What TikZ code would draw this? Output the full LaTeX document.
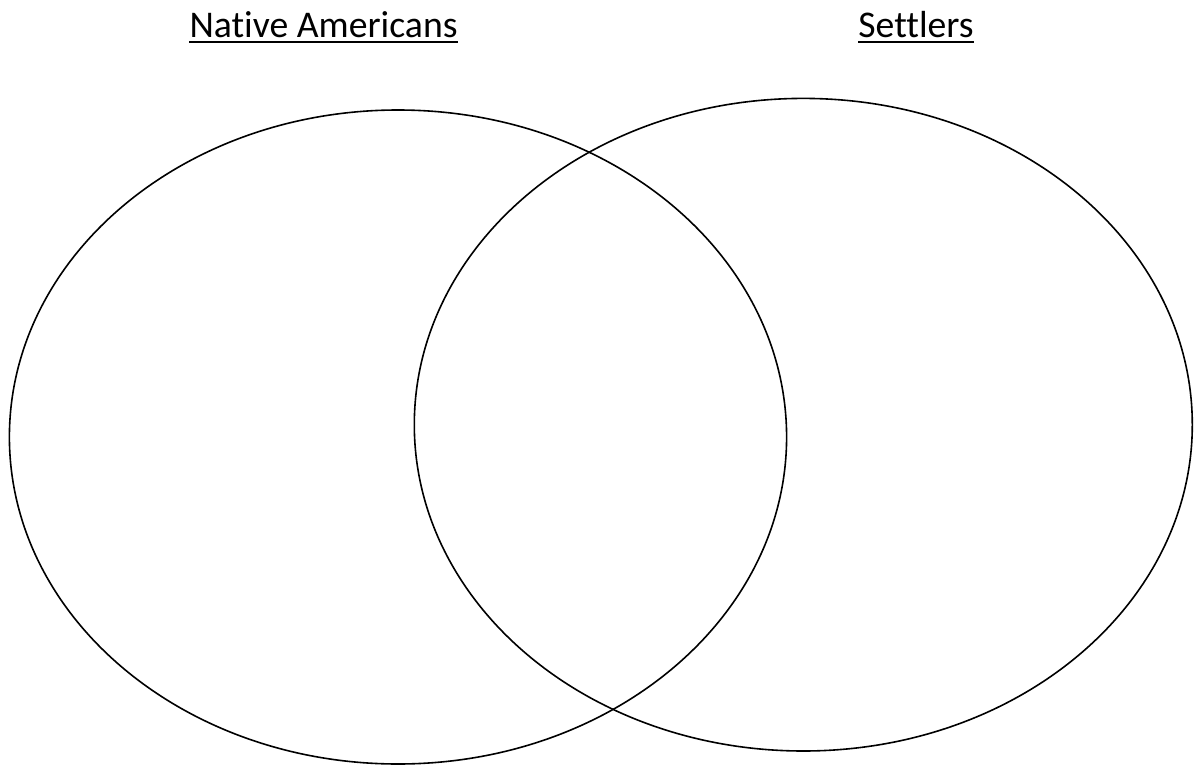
\documentclass[tikz,border=0pt]{standalone}
\usepackage{fontspec}
\setmainfont{Carlito}[Ligatures={NoCommon}]
\begin{document}
\begin{tikzpicture}[x=1pt,y=-1pt,
  venn/.style={draw=black,line width=1.6pt},
  title/.style={font=\fontsize{37.7}{42}\selectfont,anchor=base,inner sep=0pt}]
\useasboundingbox (0,0) rectangle (1195,766);
\draw[venn] (398,437) ellipse [x radius=388.6, y radius=327];
\draw[venn] (803.3,424.7) ellipse [x radius=389, y radius=326.3];
\node[title] (na) at (323.5,37) {Native Americans};
\node[title] (st) at (916,37) {Settlers};
\draw[line width=2.4pt] (na.base west) ++(0,5) coordinate (na1) -- (na.base east |- na1);
\draw[line width=2.4pt] (st.base west) ++(0,5) coordinate (st1) -- (st.base east |- st1);
\end{tikzpicture}
\end{document}
